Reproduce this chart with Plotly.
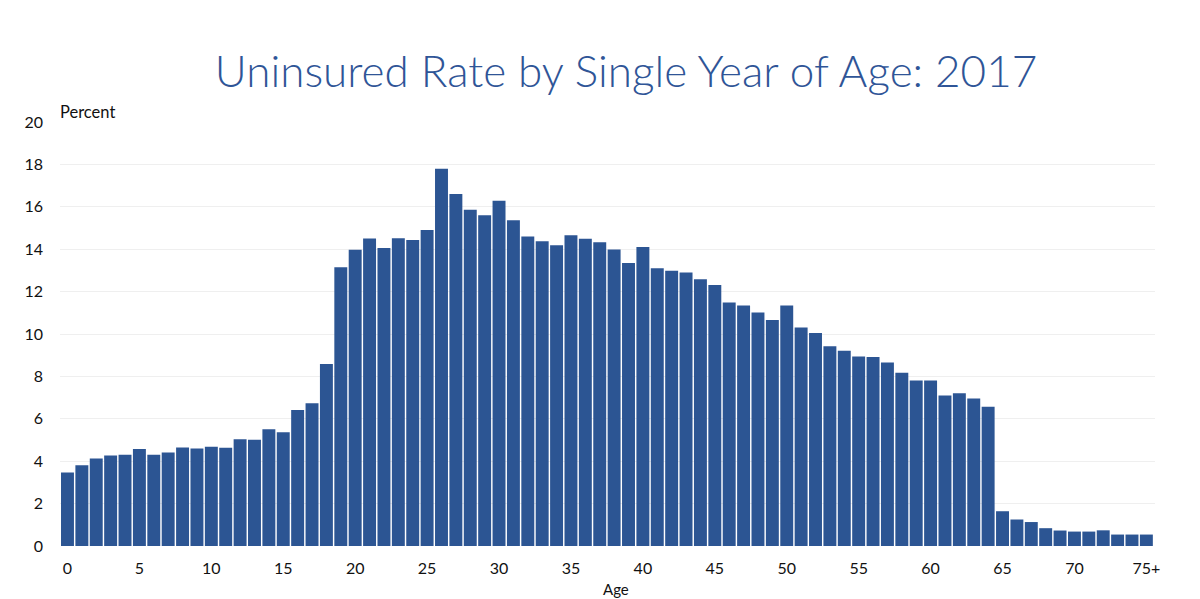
import plotly.graph_objects as go

ages = [str(a) for a in range(75)] + ["75+"]
uninsured_rate = [
    3.47, 3.81, 4.13, 4.27, 4.30, 4.57, 4.30, 4.41, 4.65, 4.60,
    4.68, 4.63, 5.03, 5.01, 5.51, 5.36, 6.42, 6.73, 8.58, 13.15,
    13.97, 14.50, 14.06, 14.52, 14.43, 14.90, 17.79, 16.60, 15.86, 15.60,
    16.28, 15.37, 14.60, 14.38, 14.19, 14.66, 14.49, 14.33, 13.98, 13.35,
    14.10, 13.10, 12.98, 12.90, 12.58, 12.31, 11.48, 11.35, 11.02, 10.66,
    11.35, 10.31, 10.05, 9.42, 9.21, 8.94, 8.91, 8.65, 8.17, 7.81,
    7.81, 7.10, 7.21, 6.96, 6.57, 1.64, 1.25, 1.13, 0.84, 0.73,
    0.68, 0.68, 0.74, 0.54, 0.54, 0.54,
]
x_tick_labels = ["0", "5", "10", "15", "20", "25", "30", "35", "40", "45",
                 "50", "55", "60", "65", "70", "75+"]
y_ticks = [0, 2, 4, 6, 8, 10, 12, 14, 16, 18, 20]

title_text = "Uninsured Rate by Single Year of Age: 2017"
bar_color = "#2C5593"
title_color = "#2F5597"

fig = go.Figure(go.Bar(
    x=ages, y=uninsured_rate,
    marker=dict(color=bar_color, line=dict(width=0)),
))

fig.update_layout(
    width=1200, height=599,
    margin=dict(l=52, r=53, t=114, b=61),
    paper_bgcolor="white", plot_bgcolor="white",
    bargap=0.1,
    showlegend=False,
    font=dict(family="Lato, Open Sans, sans-serif", size=16, color="#111111"),
    title=dict(text=title_text, x=0.515, xanchor="center", y=0.893, yanchor="middle",
               font=dict(family="Lato, sans-serif", size=44, color=title_color, weight=300)),
)
fig.update_xaxes(
    type="category", tickmode="array", tickvals=x_tick_labels, ticktext=x_tick_labels,
    showgrid=False, showline=False, ticks="", tickfont=dict(size=16),
    range=[-0.52, 75.6], ticklabelstandoff=11,
)
fig.update_yaxes(
    range=[0, 20], tickvals=y_ticks, showgrid=True, gridcolor="#EFEFEF", gridwidth=1,
    zeroline=False, showline=False, ticks="", tickfont=dict(size=16),
    ticklabelstandoff=16,
)
fig.add_annotation(text="Percent", xref="paper", yref="paper", x=-0.002, y=1.0,
                   xanchor="left", yanchor="bottom", yshift=-2, showarrow=False,
                   font=dict(size=16.5, color="#111111"))
fig.add_annotation(text="Age", xref="paper", yref="paper", x=0.508, y=0,
                   xanchor="center", yanchor="top", yshift=-32, showarrow=False,
                   font=dict(size=15, color="#111111"))

fig.write_html("out.html")
